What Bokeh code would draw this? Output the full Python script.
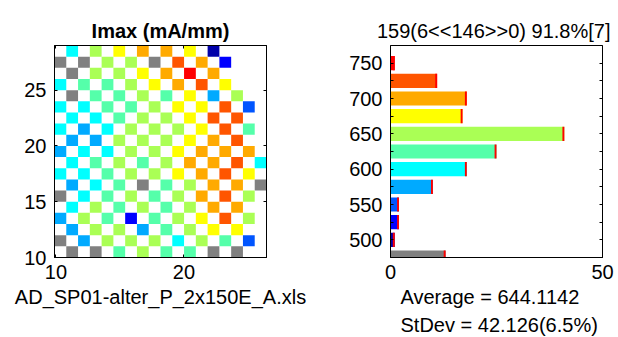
from bokeh.plotting import figure
from bokeh.layouts import row
from bokeh.models import (ColumnDataSource, LinearColorMapper, FixedTicker, LinearAxis,
                          Title, Range1d)
from bokeh.transform import transform
from bokeh.embed import file_html
from bokeh.resources import INLINE

FONT = "Liberation Sans"
FS = "20px"

# ---------------- data ----------------
# wafer map: each character is one die ('.' = no die)
level_of = {"D": 500, "B": 525, "b": 550, "z": 575, "C": 600, "A": 625,
            "G": 650, "Y": 675, "O": 700, "R": 725, "X": 750, "g": 0}
wafer_rows = [
    ".C.G.Y.O.O.Y.D....",
    "g.g.G.G.g.R.O.B...",
    ".g.G.G.Y.O.X.O....",
    "C.A.A.G.Y.O.R.Y...",
    ".g.A.A.G.A.Y.z.G..",
    "C.C.A.A.G.Y.Y.R.b.",
    ".C.C.A.G.G.Y.R.R..",
    "C.z.C.G.G.G.Y.R.A.",
    ".z.z.G.G.G.Y.O.R..",
    "z.C.C.G.G.Y.O.O.O.",
    ".C.A.G.A.G.O.O.R.C",
    "C.C.A.G.G.Y.O.R.Y.",
    ".z.C.A.g.A.G.O.O.g",
    "g.C.A.G.A.G.O.R.G.",
    ".C.G.A.G.A.G.O.O..",
    "z.G.A.B.A.G.Y.R.G.",
    ".z.G.G.z.A.G.Y.Y..",
    "g.z.G.G.G.C.G.A.b.",
    ".g.g.A.G.A.A.g.g..",
]
row_bottom = [28, 27, 26, 25, 24, 23, 22, 21, 20, 19, 18, 17, 16, 15, 14, 13, 12, 11, 10]
col_left0 = 9.89
col_pitch = 0.92

# histogram
bins = [475, 500, 525, 550, 575, 600, 625, 650, 675, 700, 725, 750]
counts = [13, 1, 2, 2, 10, 18, 25, 41, 17, 18, 11, 1]

palette = ["#0000AA", "#0000FF", "#0055FF", "#00AAFF", "#00FFFF", "#55FFAA",
           "#AAFF55", "#FFFF00", "#FFAA00", "#FF5500", "#FF0000"]

title_left = "Imax (mA/mm)"
title_right = "159(6<<146>>0)  91.8%[7]"
file_name = "AD_SP01-alter_P_2x150E_A.xls"
avg_text = "Average = 644.1142"
std_text = "StDev = 42.126(6.5%)"

# ---------------- build ----------------
mapper = LinearColorMapper(palette=palette, low=487.5, high=762.5,
                           low_color="#808080", high_color="#800000")

L, R, B, T, V = [], [], [], [], []
for r, line in enumerate(wafer_rows):
    for c, ch in enumerate(line):
        if ch == ".":
            continue
        L.append(col_left0 + c * col_pitch)
        R.append(col_left0 + (c + 1) * col_pitch)
        B.append(row_bottom[r])
        T.append(row_bottom[r] + 1)
        V.append(level_of[ch])
wsrc = ColumnDataSource(dict(left=L, right=R, bottom=B, top=T, val=V))


def style(p):
    p.grid.visible = False
    p.outline_line_color = "black"
    p.background_fill_color = "white"
    p.border_fill_color = "white"
    for ax in p.axis:
        ax.axis_line_color = "black"
        ax.major_tick_line_color = "black"
        ax.minor_tick_line_color = "black"
        ax.major_tick_in = 3
        ax.major_tick_out = 0
        ax.minor_tick_in = 3
        ax.minor_tick_out = 0
        ax.major_label_text_font = FONT
        ax.major_label_text_font_size = FS
        ax.major_label_text_color = "black"
        ax.major_label_standoff = 7
    p.yaxis.major_label_standoff = 8
    p.title.text_font = FONT
    p.title.text_font_size = FS
    p.title.text_color = "black"
    p.title.align = "center"
    p.title.standoff = 8


def mirror_axis(p, ticker, side):
    ax = LinearAxis(ticker=ticker)
    p.add_layout(ax, side)
    return ax


def hide_labels(ax):
    ax.major_label_text_font_size = "0px"
    ax.major_label_text_color = None
    ax.major_label_standoff = 0


p1 = figure(frame_width=212, frame_height=212,
            min_border_left=54, min_border_right=64, min_border_top=45, min_border_bottom=80,
            x_range=Range1d(col_left0, col_left0 + 18 * col_pitch), y_range=Range1d(10, 29),
            title=title_left,
            output_backend="svg", toolbar_location=None, tools="")
p1.quad(left="left", right="right", bottom="bottom", top="top", source=wsrc,
        fill_color=transform("val", mapper), line_color=None)
p1.xaxis.ticker = FixedTicker(ticks=[10, 20], minor_ticks=[])
p1.yaxis.ticker = FixedTicker(ticks=[10, 15, 20, 25], minor_ticks=[])
ax_r1 = mirror_axis(p1, FixedTicker(ticks=[10, 15, 20, 25], minor_ticks=[]), "right")
ax_t1 = mirror_axis(p1, FixedTicker(ticks=[10, 20], minor_ticks=[]), "above")
p1.add_layout(Title(text=file_name, align="center", text_font=FONT, text_font_size=FS,
                    text_font_style="normal", text_color="black", standoff=4), "below")
style(p1)
p1.title.text_font_style = "bold"
hide_labels(ax_r1)
hide_labels(ax_t1)

hsrc = ColumnDataSource(dict(bin=bins, count=counts,
                             cap=[c - 0.45 for c in counts]))
p2 = figure(frame_width=212, frame_height=212,
            min_border_left=60, min_border_right=16, min_border_top=45, min_border_bottom=80,
            x_range=Range1d(0, 50), y_range=Range1d(475, 775),
            title=title_right,
            output_backend="svg", toolbar_location=None, tools="")
p2.hbar(y="bin", left=0, right="count", height=20, source=hsrc,
        fill_color=transform("bin", mapper), line_color=None)
p2.hbar(y="bin", left="cap", right="count", height=20, source=hsrc,
        fill_color="#FF0000", line_color=None)
p2.xaxis.ticker = FixedTicker(ticks=[0, 50], minor_ticks=[])
p2.yaxis.ticker = FixedTicker(ticks=[500, 550, 600, 650, 700, 750],
                              minor_ticks=[525, 575, 625, 675, 725])
ax_r2 = mirror_axis(p2, FixedTicker(ticks=[500, 550, 600, 650, 700, 750],
                                    minor_ticks=[525, 575, 625, 675, 725]), "right")
p2.add_layout(Title(text=avg_text, align="left", offset=10, text_font=FONT, text_font_size=FS,
                    text_font_style="normal", text_color="black", standoff=4), "below")
p2.add_layout(Title(text=std_text, align="left", offset=10, text_font=FONT, text_font_size=FS,
                    text_font_style="normal", text_color="black", standoff=4), "below")
style(p2)
p2.title.text_font_style = "normal"
hide_labels(ax_r2)

layout = row(p1, p2, spacing=0)
open("out.html", "w").write(file_html(layout, INLINE))
